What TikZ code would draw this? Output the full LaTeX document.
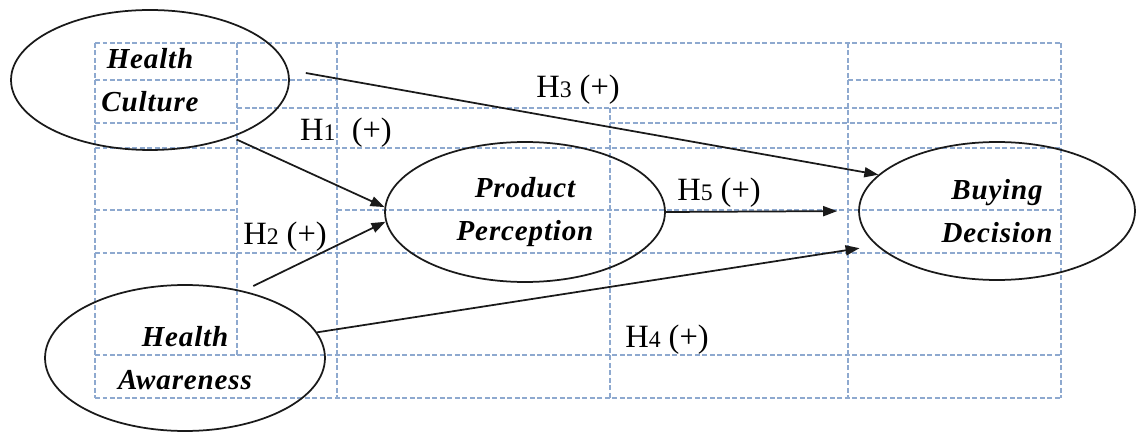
\documentclass[tikz,border=0pt]{standalone}
\usepackage{fontspec}
\setmainfont{Liberation Serif}
\newfontfamily\constfont[LetterSpace=3]{Liberation Serif}
\usetikzlibrary{arrows.meta,shapes.geometric,calc}
\definecolor{gridc}{HTML}{8EA9CF}
\definecolor{ink}{HTML}{1A1A1A}
\newcommand{\hnum}[1]{{\fontsize{13.5}{13.5}\selectfont #1}}
\tikzset{
  cons/.style={ellipse,draw=ink,line width=0.035cm,minimum width=5.6cm,minimum height=2.8cm,inner sep=0pt,
               align=center,font=\constfont\bfseries\itshape\fontsize{16.5}{24.5}\selectfont},
  hyp/.style={-{Triangle[length=0.28cm,width=0.2cm]},line width=0.035cm,draw=ink},
  hlbl/.style={font=\fontsize{18.5}{20}\selectfont,inner sep=0pt},
  cell/.style={draw=gridc,line width=0.028cm,dash pattern=on 0.1cm off 0.05cm},
}
\begin{document}
\begin{tikzpicture}[x=0.02cm,y=-0.02cm]
  \useasboundingbox (0,0) rectangle (1136,432);
  % table grid behind the model
  \foreach \y/\a/\b in {43/95/1061,80/95/337,80/848/1061,108/237/1061,123/95/237,123/610/1061,
                        148/95/1061,210/95/237,210/337/1061,253/95/1061,355/95/1061,398/95/1061}
    \draw[cell] (\a,\y) -- (\b,\y);
  \foreach \x/\a/\b in {95/43/398,237/43/355,337/43/398,610/108/398,848/43/398,1061/43/398}
    \draw[cell] (\x,\a) -- (\x,\b);

  % constructs
  \node[cons,minimum width=5.56cm] (hc) at (150,80) {Health\\Culture};
  \node[cons,minimum height=2.92cm] (ha) at (185,358) {Health\\Awareness};
  \node[cons] (pp) at (525,212) {Product\\Perception};
  \node[cons,minimum width=5.52cm,minimum height=2.76cm] (bd) at (997,211) {Buying\\Decision};

  % hypotheses
  \draw[hyp] ($(hc.east)+(16,-7)$) -- (bd.163);
  \draw[hyp,shorten <=0.1cm] (hc.-35) -- (pp.178);
  \draw[hyp,shorten <=0.22cm] (ha.49) -- (pp.184);
  \draw[hyp,shorten >=0.34cm] (ha.11) -- (bd.196);
  \draw[hyp,shorten >=0.42cm] (pp.east) -- (bd.west);

  \node[hlbl] (h1) at (346,133) {H\hnum{1}\ \ (+)};
  \node[hlbl] (h2) at (285,237) {H\hnum{2} (+)};
  \node[hlbl] (h3) at (578,90) {H\hnum{3} (+)};
  \node[hlbl] (h4) at (667,340) {H\hnum{4} (+)};
  \node[hlbl] (h5) at (719,193) {H\hnum{5} (+)};
\end{tikzpicture}
\end{document}
